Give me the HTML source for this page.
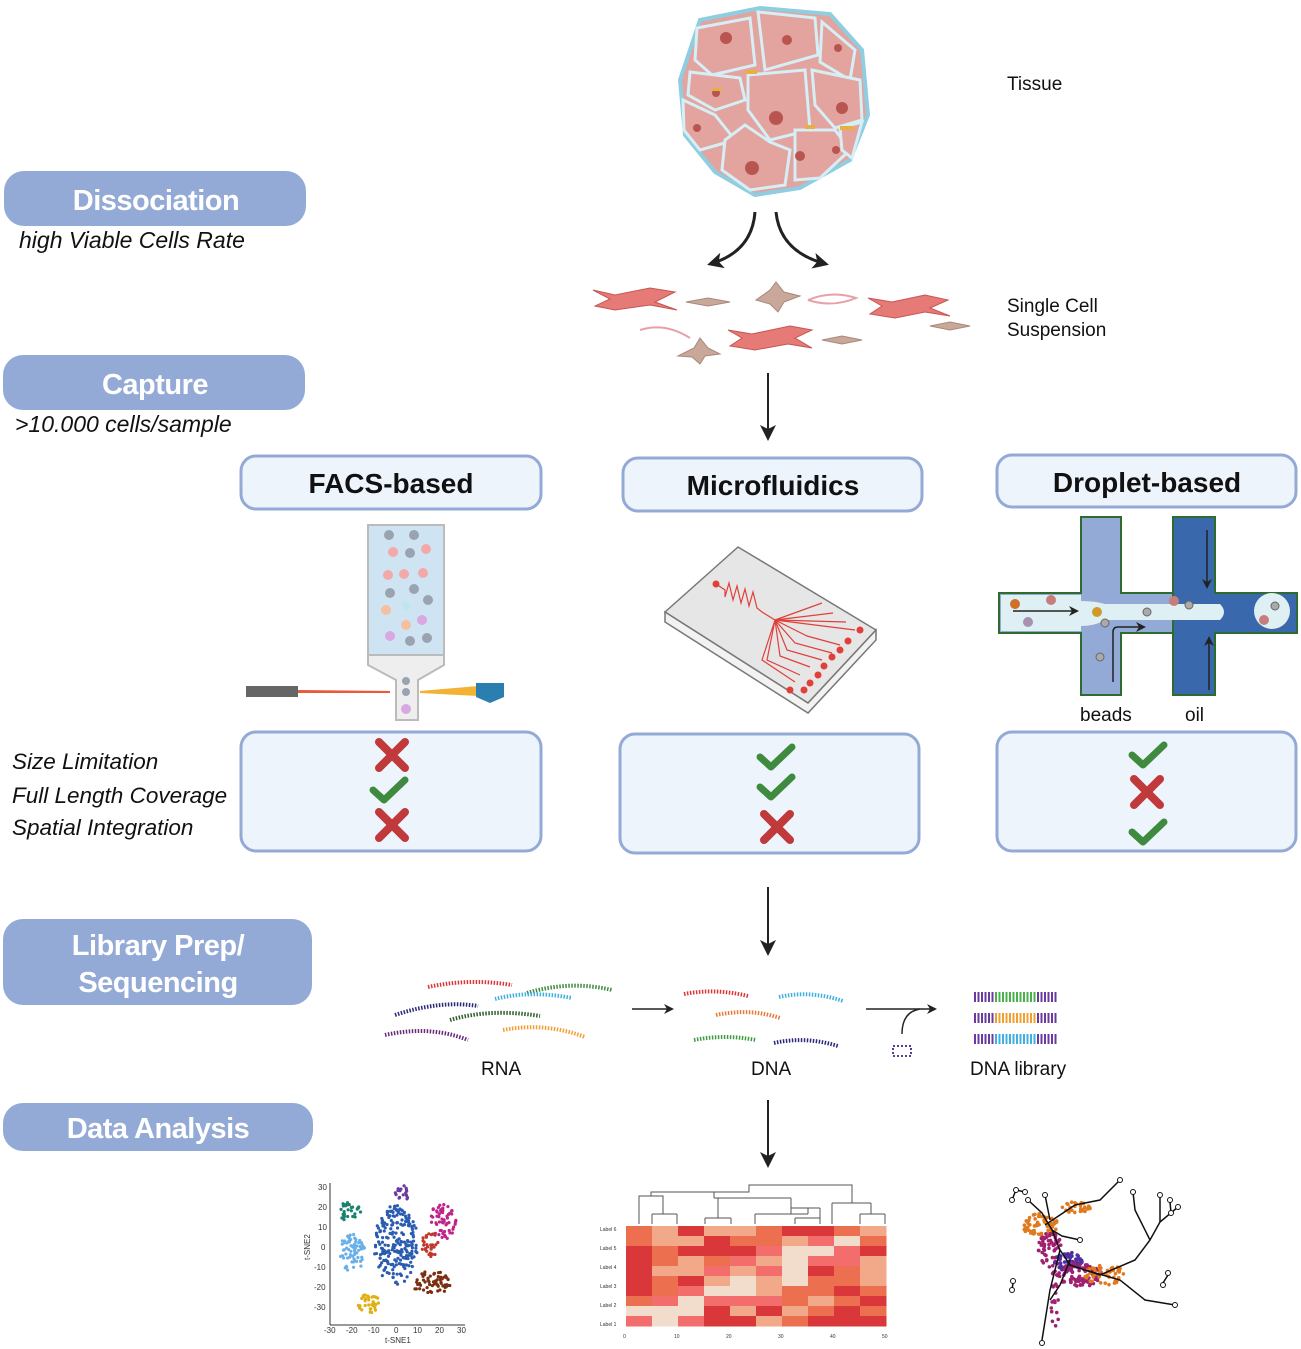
<!DOCTYPE html>
<html><head><meta charset="utf-8"><style>
html,body{margin:0;padding:0;background:#fff}
svg{display:block}
text{font-family:"Liberation Sans",sans-serif}
.pill{fill:#94aad6}
.pt{fill:#fff;font-weight:bold;font-size:29px;text-anchor:middle;letter-spacing:-0.5px}
.sub{font-style:italic;font-size:23px;fill:#111}
.sub2{font-style:italic;font-size:22.5px;fill:#111}
.box{fill:#eef4fc;stroke:#94aad6;stroke-width:3}
.bt{font-weight:bold;font-size:28px;text-anchor:middle;fill:#111}
.lbl{font-size:19px;fill:#111}
.ax{font-size:8px;fill:#333}
.st{fill:none;stroke-width:4;stroke-dasharray:1.5 1.5}
</style></head><body>
<svg id="s" width="1301" height="1349" viewBox="0 0 1301 1349" xmlns="http://www.w3.org/2000/svg">
<defs>
<marker id="ah" markerWidth="10" markerHeight="10" refX="8" refY="5" orient="auto" markerUnits="userSpaceOnUse"><path d="M0,0 L10,5 L0,10 L3,5 z" fill="#222"/></marker>
<marker id="ah2" markerWidth="16" markerHeight="16" refX="13" refY="8" orient="auto" markerUnits="userSpaceOnUse"><path d="M0,0 L16,8 L0,16 L4,8 z" fill="#222"/></marker>
</defs>

<rect class="pill" x="4" y="171" width="302" height="55" rx="20"/>
<text class="pt" x="156" y="210">Dissociation</text>
<text class="sub" x="19" y="248">high Viable Cells Rate</text>
<rect class="pill" x="3" y="355" width="302" height="55" rx="20"/>
<text class="pt" x="155" y="394">Capture</text>
<text class="sub" x="15" y="432">&gt;10.000 cells/sample</text>
<rect class="pill" x="3" y="919" width="309" height="86" rx="20"/>
<text class="pt" x="158" y="955">Library Prep/</text>
<text class="pt" x="158" y="992">Sequencing</text>
<rect class="pill" x="3" y="1103" width="310" height="48" rx="20"/>
<text class="pt" x="158" y="1138">Data Analysis</text>

<g>
<path d="M700,20 L760,8 L830,14 L862,50 L868,115 L850,160 L800,188 L755,195 L715,172 L685,135 L680,80 Z" fill="#e3a39e" stroke="#8fcde0" stroke-width="4"/>
<g fill="#e3a39e" stroke="#d6eef5" stroke-width="3">
<path d="M697,28 L750,18 L755,65 L712,75 L695,60Z"/>
<path d="M758,12 L815,18 L818,55 L765,70Z"/>
<path d="M822,22 L855,50 L850,80 L820,62Z"/>
<path d="M690,72 L740,78 L745,100 L715,110 L688,95Z"/>
<path d="M748,75 L805,70 L810,130 L770,140 L748,110Z"/>
<path d="M812,70 L860,80 L862,120 L835,128 L815,105Z"/>
<path d="M683,100 L715,115 L735,140 L700,150 L684,130Z"/>
<path d="M745,125 L770,142 L790,150 L785,185 L750,190 L722,170 L725,140Z"/>
<path d="M795,130 L835,130 L850,150 L820,178 L795,180Z"/>
<path d="M840,128 L862,122 L852,158 L842,150Z"/>
</g>
<g fill="#b85550"><circle cx="726" cy="38" r="6"/><circle cx="787" cy="40" r="5"/><circle cx="838" cy="48" r="4"/><circle cx="716" cy="93" r="4"/><circle cx="776" cy="118" r="7"/><circle cx="842" cy="108" r="6"/><circle cx="697" cy="128" r="4"/><circle cx="752" cy="168" r="7"/><circle cx="800" cy="156" r="5"/><circle cx="836" cy="150" r="4"/></g>
<g fill="#e8b040"><rect x="745" y="70" width="12" height="4"/><rect x="805" y="125" width="10" height="4"/><rect x="840" y="126" width="14" height="4"/><rect x="712" y="88" width="10" height="3"/></g>
</g>
<text class="lbl" x="1007" y="90">Tissue</text>

<path d="M755,212 Q752,252 710,264" fill="none" stroke="#222" stroke-width="3" marker-end="url(#ah2)"/>
<path d="M776,212 Q780,252 826,264" fill="none" stroke="#222" stroke-width="3" marker-end="url(#ah2)"/>

<g stroke="#c75652" stroke-width="1" fill="#e57a76">
<path d="M593,290 L615,295 L650,288 L675,292 L655,302 L677,310 L650,305 L615,310 L595,306 L610,299Z"/>
<path d="M868,298 L892,302 L925,295 L948,300 L930,308 L950,316 L925,312 L895,318 L870,314 L882,306Z"/>
<path d="M728,330 L752,334 L790,326 L812,330 L795,338 L812,348 L788,344 L755,350 L730,346 L742,338Z"/>
</g>
<g fill="#c9a89a" stroke="#a7897c" stroke-width="1">
<path d="M686,302 L708,298 L730,302 L708,306Z"/>
<path d="M756,300 L770,290 L776,282 L784,292 L800,296 L784,302 L778,312 L770,304Z"/>
<path d="M678,356 L694,348 L700,338 L708,348 L720,354 L705,356 L700,364 L692,357Z"/>
<path d="M822,340 L842,336 L862,340 L842,344Z"/>
<path d="M930,326 L950,322 L970,326 L950,330Z"/>
</g>
<g fill="none" stroke="#e8a0a8" stroke-width="2"><path d="M808,300 Q832,290 856,298 Q832,308 808,300"/><path d="M640,330 Q665,322 690,338"/></g>
<text class="lbl" x="1007" y="312">Single Cell</text>
<text class="lbl" x="1007" y="336">Suspension</text>

<line x1="768" y1="373" x2="768" y2="438" stroke="#222" stroke-width="2" marker-end="url(#ah2)"/>

<rect class="box" x="241" y="456" width="300" height="53" rx="15"/>
<text class="bt" x="391" y="493">FACS-based</text>
<rect class="box" x="623" y="458" width="299" height="53" rx="15"/>
<text class="bt" x="773" y="495">Microfluidics</text>
<rect class="box" x="997" y="455" width="299" height="52" rx="15"/>
<text class="bt" x="1147" y="492">Droplet-based</text>

<g>
<rect x="368" y="525" width="76" height="130" fill="#cfe4f3" stroke="#bbb" stroke-width="2"/>
<path d="M368,655 L444,655 L444,665 L418,680 L418,720 L396,720 L396,680 L368,665Z" fill="#eee" stroke="#bbb" stroke-width="2"/>
<g fill="#9aa3b0"><circle cx="389" cy="535" r="5"/><circle cx="414" cy="535" r="5"/><circle cx="410" cy="553" r="5"/><circle cx="390" cy="593" r="5"/><circle cx="414" cy="589" r="5"/><circle cx="428" cy="600" r="5"/><circle cx="410" cy="641" r="5"/><circle cx="427" cy="638" r="5"/><circle cx="406" cy="681" r="4"/><circle cx="406" cy="692" r="4"/></g>
<g fill="#f4a9a9"><circle cx="393" cy="552" r="5"/><circle cx="426" cy="549" r="5"/><circle cx="388" cy="575" r="5"/><circle cx="404" cy="574" r="5"/><circle cx="423" cy="573" r="5"/><circle cx="386" cy="610" r="5" fill="#f6c0a0"/><circle cx="406" cy="625" r="5" fill="#f6c0a0"/></g>
<g fill="#d8a8e0"><circle cx="390" cy="636" r="5"/><circle cx="422" cy="620" r="5"/><circle cx="406" cy="709" r="5"/></g>
<circle cx="406" cy="606" r="4" fill="#bfe6ee"/>
<rect x="246" y="686" width="52" height="11" fill="#666"/>
<path d="M298,690 L390,691 L390,693 L298,693Z" fill="#e85a3a"/>
<path d="M420,691 L478,686 L478,696 L420,693Z" fill="#f2b233"/>
<path d="M476,683 L504,683 L504,697 L490,703 L476,697Z" fill="#2a7fb0"/>
</g>

<g>
<path d="M665,612 L738,547 L876,630 L808,703Z" fill="#e6e6e6" stroke="#777" stroke-width="1.5"/>
<path d="M665,612 L665,622 L808,713 L876,640 L876,630 L808,703Z" fill="#f2f2f2" stroke="#777" stroke-width="1.5"/>
<g stroke="#e0403a" stroke-width="1.2" fill="none">
<path d="M716,584 L725,590 L725,597 L729,583 L733,600 L737,586 L741,603 L745,589 L749,606 L753,592 L757,608 L762,612 L775,620"/>
<path d="M775,620 L822,603 M775,620 L833,613 M775,620 L846,622 M775,620 L855,630 M775,620 L807,636 L840,645 M775,620 L795,643 L832,653 M775,620 L787,650 L822,660 M775,620 L780,656 L810,667 M775,620 L767,660 L800,675 M775,620 L762,660 L795,682"/>
</g>
<g fill="#e0403a"><circle cx="716" cy="584" r="3.5"/><circle cx="860" cy="630" r="3.5"/><circle cx="848" cy="641" r="3.5"/><circle cx="840" cy="650" r="3.5"/><circle cx="832" cy="657" r="3.5"/><circle cx="824" cy="666" r="3.5"/><circle cx="818" cy="675" r="3.5"/><circle cx="810" cy="683" r="3.5"/><circle cx="804" cy="690" r="3.5"/><circle cx="790" cy="690" r="3.5"/></g>
</g>

<g stroke="#2e6b2e" stroke-width="2">
<path d="M1081,517 L1121,517 L1121,593 L1173,593 L1173,517 L1215,517 L1215,593 L1297,593 L1297,633 L1215,633 L1215,695 L1173,695 L1173,633 L1121,633 L1121,695 L1081,695 L1081,633 L999,633 L999,593 L1081,593Z" fill="#94aad6"/>
<path d="M1173,517 L1215,517 L1215,593 L1297,593 L1297,633 L1215,633 L1215,695 L1173,695Z" fill="#3a68ad"/>
<path d="M1001,595 L1081,595 L1081,631 L1001,631Z" fill="#dff0f4" stroke="none"/>
</g>
<path d="M1081,601 Q1095,601 1105,604 L1220,604 Q1228,612 1220,620 L1105,620 Q1095,626 1081,626Z" fill="#dff0f4"/>
<circle cx="1272" cy="611" r="18" fill="#dff0f4"/>
<g fill="#c77e7a"><circle cx="1051" cy="600" r="5"/><circle cx="1174" cy="601" r="5"/><circle cx="1264" cy="620" r="5"/></g>
<circle cx="1015" cy="604" r="5" fill="#d0702a"/><circle cx="1097" cy="612" r="5" fill="#d09a2a"/><circle cx="1028" cy="622" r="5" fill="#a890b0"/>
<g fill="#aaa" stroke="#666" stroke-width="1"><circle cx="1105" cy="623" r="4"/><circle cx="1147" cy="612" r="4"/><circle cx="1189" cy="605" r="4"/><circle cx="1275" cy="606" r="4"/><circle cx="1100" cy="657" r="4"/></g>
<line x1="1013" y1="611" x2="1077" y2="611" stroke="#222" stroke-width="1.5" marker-end="url(#ah)"/>
<path d="M1113,682 L1113,632 Q1113,627 1118,627 L1144,627" fill="none" stroke="#222" stroke-width="1.5" marker-end="url(#ah)"/>
<line x1="1207" y1="530" x2="1207" y2="587" stroke="#222" stroke-width="1.5" marker-end="url(#ah)"/>
<line x1="1209" y1="690" x2="1209" y2="638" stroke="#222" stroke-width="1.5" marker-end="url(#ah)"/>
<text class="lbl" x="1080" y="721">beads</text>
<text class="lbl" x="1185" y="721">oil</text>

<rect class="box" x="241" y="732" width="300" height="119" rx="15"/>
<rect class="box" x="620" y="734" width="299" height="119" rx="15"/>
<rect class="box" x="997" y="732" width="299" height="119" rx="15"/>
<text class="sub2" x="12" y="769">Size Limitation</text>
<text class="sub2" x="12" y="803">Full Length Coverage</text>
<text class="sub2" x="12" y="835">Spatial Integration</text>
<g id="marks"></g>

<line x1="768" y1="887" x2="768" y2="953" stroke="#222" stroke-width="2" marker-end="url(#ah2)"/>

<g>
<path class="st" d="M428,987 Q470,978 512,985" stroke="#d9373a"/>
<path class="st" d="M527,993 Q570,980 612,990" stroke="#3f8a3f"/>
<path class="st" d="M495,999 Q530,990 572,998" stroke="#3fb0e0"/>
<path class="st" d="M395,1015 Q440,1000 478,1006" stroke="#2a2a7a"/>
<path class="st" d="M450,1020 Q490,1008 540,1016" stroke="#2e5e2e"/>
<path class="st" d="M385,1035 Q430,1025 468,1040" stroke="#6a2a7a"/>
<path class="st" d="M503,1030 Q545,1022 585,1037" stroke="#f0a030"/>
<path class="st" d="M684,994 Q715,988 748,996" stroke="#d9373a"/>
<path class="st" d="M779,997 Q810,990 843,1001" stroke="#3fb0e0"/>
<path class="st" d="M716,1015 Q750,1008 780,1018" stroke="#e87a3a"/>
<path class="st" d="M694,1040 Q725,1034 756,1040" stroke="#3f9a3f"/>
<path class="st" d="M774,1043 Q805,1036 838,1046" stroke="#2a2a7a"/>
</g>
<line x1="632" y1="1009" x2="672" y2="1009" stroke="#222" stroke-width="1.5" marker-end="url(#ah)"/>
<line x1="866" y1="1009" x2="935" y2="1009" stroke="#222" stroke-width="1.5" marker-end="url(#ah)"/>
<path d="M902,1034 Q902,1012 920,1009" fill="none" stroke="#222" stroke-width="1.5"/>
<rect x="893" y="1046" width="18" height="10" fill="none" stroke="#5a3aa0" stroke-width="2" stroke-dasharray="2 2"/>
<g stroke-width="10" stroke-dasharray="2 1.5">
<line x1="974" y1="997" x2="1057" y2="997" stroke="#4ab04a"/>
<line x1="974" y1="1018" x2="1057" y2="1018" stroke="#f0a030"/>
<line x1="974" y1="1039" x2="1057" y2="1039" stroke="#3fb0e0"/>
</g>
<g stroke="#6a3aa0" stroke-width="10" stroke-dasharray="2 1.5"><line x1="974" y1="997" x2="994" y2="997"/><line x1="974" y1="1018" x2="994" y2="1018"/><line x1="974" y1="1039" x2="994" y2="1039"/><line x1="1037" y1="997" x2="1057" y2="997"/><line x1="1037" y1="1018" x2="1057" y2="1018"/><line x1="1037" y1="1039" x2="1057" y2="1039"/></g>
<text class="lbl" x="481" y="1075">RNA</text>
<text class="lbl" x="751" y="1075">DNA</text>
<text class="lbl" x="970" y="1075">DNA library</text>

<line x1="768" y1="1100" x2="768" y2="1165" stroke="#222" stroke-width="2" marker-end="url(#ah2)"/>

<g stroke="#333" stroke-width="1"><line x1="330" y1="1183" x2="330" y2="1325"/><line x1="330" y1="1325" x2="465" y2="1325"/></g>
<g class="ax">
<text x="318" y="1190">30</text><text x="318" y="1210">20</text><text x="318" y="1230">10</text><text x="321" y="1250">0</text><text x="314" y="1270">-10</text><text x="314" y="1290">-20</text><text x="314" y="1310">-30</text>
<text x="324" y="1333">-30</text><text x="346" y="1333">-20</text><text x="368" y="1333">-10</text><text x="394" y="1333">0</text><text x="413" y="1333">10</text><text x="435" y="1333">20</text><text x="457" y="1333">30</text>
<text x="385" y="1343">t-SNE1</text>
<text transform="translate(310,1260) rotate(-90)">t-SNE2</text>
</g>
<g id="tsne"></g>

<g id="heat"></g>
<g class="ax">
<text x="600" y="1231" font-size="5">Label 6</text><text x="600" y="1250" font-size="5">Label 5</text><text x="600" y="1269" font-size="5">Label 4</text><text x="600" y="1288" font-size="5">Label 3</text><text x="600" y="1307" font-size="5">Label 2</text><text x="600" y="1326" font-size="5">Label 1</text>
<text x="623" y="1338" font-size="5">0</text><text x="674" y="1338" font-size="5">10</text><text x="726" y="1338" font-size="5">20</text><text x="778" y="1338" font-size="5">30</text><text x="830" y="1338" font-size="5">40</text><text x="882" y="1338" font-size="5">50</text>
</g>
<g fill="none" stroke="#555" stroke-width="1">
<path d="M639,1224 L639,1196 L663,1196 L663,1214 M652,1214 L652,1224 M677,1214 L677,1224 M652,1214 L677,1214"/>
<path d="M651,1196 L651,1192 L749,1192 L749,1185 L852,1185 L852,1203"/>
<path d="M714,1192 L714,1198 M714,1198 L791,1198 M705,1218 L705,1224 M731,1218 L731,1224 M705,1218 L731,1218 M718,1218 L718,1198 M791,1198 L791,1214 M755,1214 L755,1224 M755,1214 L808,1214 M808,1208 L808,1214 M791,1208 L820,1208 M795,1218 L820,1218 M795,1218 L795,1224 M820,1218 L820,1224 M820,1208 L820,1218"/>
<path d="M832,1203 L871,1203 M832,1203 L832,1224 M871,1203 L871,1214 M860,1214 L885,1214 M860,1214 L860,1224 M885,1214 L885,1224"/>
</g>

<g id="traj"></g>
<g fill="none" stroke="#111" stroke-width="1.5">
<path d="M1042,1340 L1050,1290 L1060,1250 L1070,1265 L1100,1275 L1135,1260 L1150,1240 L1160,1222 L1178,1207"/>
<path d="M1060,1250 L1052,1230 L1042,1213 L1028,1200"/>
<path d="M1045,1225 L1075,1205 L1100,1200 L1120,1180"/>
<path d="M1050,1220 L1045,1195"/>
<path d="M1085,1270 L1120,1280 L1145,1300 L1175,1305"/>
<path d="M1150,1240 L1135,1210 L1133,1192"/>
<path d="M1160,1222 L1160,1195"/>
<path d="M1070,1260 L1060,1285 L1050,1300"/>
<path d="M1052,1230 L1062,1236 L1080,1240"/>
<path d="M1016,1190 L1012,1200 M1016,1190 L1025,1192"/>
<path d="M1170,1202 L1171,1213"/><path d="M1013,1283 L1012,1290"/><path d="M1168,1275 L1163,1283"/>
</g>
<g fill="#fff" stroke="#111" stroke-width="1">
<circle cx="1042" cy="1343" r="2.5"/><circle cx="1178" cy="1207" r="2.5"/><circle cx="1028" cy="1200" r="2.5"/><circle cx="1120" cy="1180" r="2.5"/><circle cx="1045" cy="1195" r="2.5"/><circle cx="1175" cy="1305" r="2.5"/><circle cx="1133" cy="1192" r="2.5"/><circle cx="1160" cy="1195" r="2.5"/><circle cx="1080" cy="1240" r="2.5"/><circle cx="1016" cy="1190" r="2.5"/><circle cx="1025" cy="1192" r="2.5"/><circle cx="1012" cy="1200" r="2.5"/><circle cx="1170" cy="1200" r="2.5"/><circle cx="1171" cy="1213" r="2.5"/><circle cx="1013" cy="1281" r="2.5"/><circle cx="1012" cy="1290" r="2.5"/><circle cx="1168" cy="1273" r="2.5"/><circle cx="1163" cy="1285" r="2.5"/>
</g>
</svg>
<script>
(function(){
var NS="http://www.w3.org/2000/svg";
var seed=7;function r(){seed=(seed*16807)%2147483647;return seed/2147483647;}
function el(p,t,a){var e=document.createElementNS(NS,t);for(var k in a)e.setAttribute(k,a[k]);p.appendChild(e);return e;}
var m=document.getElementById("marks");
function X(cx,cy){el(m,"path",{d:"M"+(cx-13)+","+(cy-13)+" L"+(cx+13)+","+(cy+13)+" M"+(cx+13)+","+(cy-13)+" L"+(cx-13)+","+(cy+13),stroke:"#c0393b","stroke-width":8,"stroke-linecap":"round",fill:"none"});}
function C(cx,cy){el(m,"path",{d:"M"+(cx-16)+","+(cy)+" L"+(cx-5)+","+(cy+10)+" L"+(cx+16)+","+(cy-10),stroke:"#3e8a3e","stroke-width":7,"stroke-linecap":"round","stroke-linejoin":"round",fill:"none"});}
X(392,755);C(389,790);X(392,825);
C(776,757);C(776,787);X(777,827);
C(1148,755);X(1147,792);C(1148,832);
var t=document.getElementById("tsne");
var cl=[[349,1212,12,10,30,"#1a8070"],[402,1193,8,8,18,"#6a3aa0"],[442,1222,14,18,60,"#c0248a"],[430,1245,9,12,30,"#c0392b"],[352,1253,13,19,70,"#6ab0e8"],[396,1245,22,40,220,"#2a5cb0"],[432,1283,20,12,60,"#7a3010"],[369,1303,11,10,35,"#e0b010"]];
cl.forEach(function(c){for(var i=0;i<c[4];i++){var a=r()*6.283,d=Math.sqrt(r());el(t,"circle",{cx:c[0]+Math.cos(a)*d*c[2],cy:c[1]+Math.sin(a)*d*c[3],r:1.6,fill:c[5]});}});
var h=document.getElementById("heat");
var cols=["#d9373a","#ec6f50","#f2a98a","#f2dccc","#f46d6d"];
var g=[[1,2,0,2,2,1,0,0,1,2],[1,2,2,0,1,1,2,4,3,1],[0,1,0,0,0,4,3,3,4,0],[0,1,2,1,4,2,3,4,4,2],[0,2,2,4,2,4,3,0,1,2],[0,1,0,2,3,2,3,1,1,2],[0,1,4,3,3,2,1,1,0,1],[1,4,3,4,4,4,1,2,1,0],[3,3,3,0,2,0,2,1,0,1],[4,3,4,0,0,2,1,0,0,0]];
for(var y=0;y<10;y++)for(var x=0;x<10;x++)el(h,"rect",{x:626+x*26,y:1226+y*10,width:26.5,height:10.5,fill:cols[g[y][x]]});
var tr=document.getElementById("traj");
var tc=[[1040,1225,18,12,60,"#e07a20"],[1050,1250,12,18,60,"#a02070"],[1068,1262,14,10,70,"#5030a0"],[1080,1275,22,12,90,"#a02070"],[1105,1275,22,10,50,"#e07a20"],[1075,1208,16,6,30,"#e07a20"],[1055,1300,4,35,20,"#a02070"]];
tc.forEach(function(c){for(var i=0;i<c[4];i++){var a=r()*6.283,d=Math.sqrt(r());el(tr,"circle",{cx:c[0]+Math.cos(a)*d*c[2],cy:c[1]+Math.sin(a)*d*c[3],r:1.8,fill:c[5]});}});
})();
</script>
</body></html>
